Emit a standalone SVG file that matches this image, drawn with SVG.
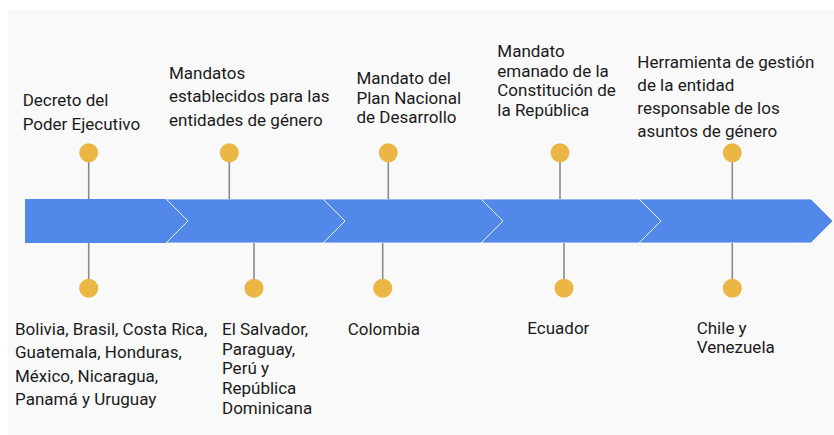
<svg xmlns="http://www.w3.org/2000/svg" width="834" height="435" viewBox="0 0 834 435">
<style>
text{font-family:Roboto,"Liberation Sans",sans-serif;font-size:17px;fill:#1b1b1b}
.seg{fill:#5388EB;stroke:#ffffff;stroke-width:0.8}
.stem{stroke:#8a8a8a;stroke-width:1.6}
.dot{fill:#EBB644}
</style>
<rect x="0" y="0" width="834" height="435" fill="#ffffff"/>
<rect x="8" y="10" width="826" height="425" fill="#F9F9F9"/>
<g id="band">
<polygon class="seg" points="639,199 811,199 833,221 811,243 639,243 661,221"/>
<polygon class="seg" points="481,199 639,199 661,221 639,243 481,243 503,221"/>
<polygon class="seg" points="323,199 481,199 503,221 481,243 323,243 345,221"/>
<polygon class="seg" points="166,199 323,199 345,221 323,243 166,243 188,221"/>
<polygon class="seg" points="25,199 166,199 188,221 166,243 25,243" style="stroke:none"/>
<polyline points="166,199 188,221 166,243" fill="none" stroke="#ffffff" stroke-width="0.8"/>
</g>
<g id="connectors">
<line class="stem" x1="88.7" y1="152" x2="88.7" y2="199"/>
<line class="stem" x1="229.3" y1="152" x2="229.3" y2="199"/>
<line class="stem" x1="388.3" y1="152" x2="388.3" y2="199"/>
<line class="stem" x1="560" y1="152" x2="560" y2="199"/>
<line class="stem" x1="732.3" y1="152" x2="732.3" y2="199"/>
<line class="stem" x1="88.7" y1="243" x2="88.7" y2="288"/>
<line class="stem" x1="254" y1="243" x2="254" y2="288"/>
<line class="stem" x1="382.7" y1="243" x2="382.7" y2="288"/>
<line class="stem" x1="564" y1="243" x2="564" y2="288"/>
<line class="stem" x1="732.3" y1="243" x2="732.3" y2="288"/>
</g>
<g id="top1"><circle class="dot" cx="88.7" cy="152.7" r="9.5"/>
<text x="22.7" y="106">Decreto del</text><text x="22.7" y="129.5">Poder Ejecutivo</text></g>
<g id="top2"><circle class="dot" cx="229.3" cy="152.7" r="9.5"/>
<text x="169" y="79">Mandatos</text><text x="169" y="102">establecidos para las</text><text x="169" y="125.5">entidades de género</text></g>
<g id="top3"><circle class="dot" cx="388.3" cy="152.7" r="9.5"/>
<text x="356.5" y="84">Mandato del</text><text x="356.5" y="103.5">Plan Nacional</text><text x="356.5" y="123">de Desarrollo</text></g>
<g id="top4"><circle class="dot" cx="560" cy="152.7" r="9.5"/>
<text x="497.3" y="57">Mandato</text><text x="497.3" y="76.5">emanado de la</text><text x="497.3" y="96">Constitución de</text><text x="497.3" y="115.5">la República</text></g>
<g id="top5"><circle class="dot" cx="732.3" cy="152.7" r="9.5"/>
<text x="637.3" y="67.5">Herramienta de gestión</text><text x="637.3" y="90.8">de la entidad</text><text x="637.3" y="114">responsable de los</text><text x="637.3" y="137.3">asuntos de género</text></g>
<g id="bot1"><circle class="dot" cx="88.7" cy="288.3" r="9.5"/>
<text x="15" y="335">Bolivia, Brasil, Costa Rica,</text><text x="15" y="358.3">Guatemala, Honduras,</text><text x="15" y="381.6">México, Nicaragua,</text><text x="15" y="405">Panamá y Uruguay</text></g>
<g id="bot2"><circle class="dot" cx="254" cy="288.3" r="9.5"/>
<text x="222" y="335">El Salvador,</text><text x="222" y="354.7">Paraguay,</text><text x="222" y="374.4">Perú y</text><text x="222" y="394.1">República</text><text x="222" y="413.8">Dominicana</text></g>
<g id="bot3"><circle class="dot" cx="382.7" cy="288.3" r="9.5"/>
<text x="347.7" y="335">Colombia</text></g>
<g id="bot4"><circle class="dot" cx="564" cy="288.3" r="9.5"/>
<text x="527.3" y="333.5">Ecuador</text></g>
<g id="bot5"><circle class="dot" cx="732.3" cy="288.3" r="9.5"/>
<text x="696.7" y="333.5">Chile y</text><text x="696.7" y="353.3">Venezuela</text></g>
</svg>
